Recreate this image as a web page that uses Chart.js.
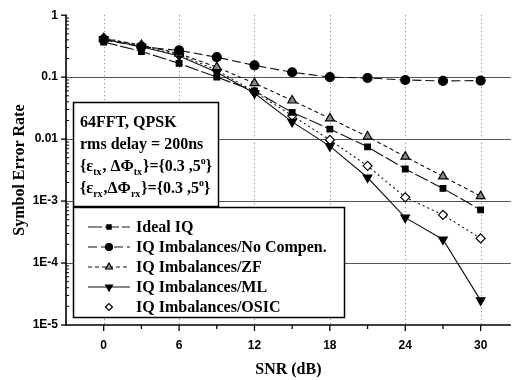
<!DOCTYPE html>
<html>
<head>
<meta charset="utf-8">
<script src="https://cdn.jsdelivr.net/npm/chart.js@4/dist/chart.umd.min.js"></script>
<style>
html, body { margin: 0; padding: 0; background: #fff; }
#wrap { width: 517px; height: 380px; }
</style>
</head>
<body>
<div id="wrap"><canvas id="serChart" width="517" height="380"></canvas></div>
<script>
// DATA
var snr = [0, 3, 6, 9, 12, 15, 18, 21, 24, 27, 30];
var idealIQ = [0.37, 0.26, 0.167, 0.1, 0.06, 0.027, 0.0145, 0.0075, 0.0033, 0.0016, 0.00072];
var noCompen = [0.4, 0.31, 0.27, 0.21, 0.155, 0.12, 0.1, 0.097, 0.09, 0.087, 0.088];
var zfSer = [0.42, 0.33, 0.24, 0.145, 0.08, 0.042, 0.0216, 0.011, 0.0052, 0.0025, 0.0012];
var mlSer = [0.41, 0.31, 0.22, 0.12, 0.055, 0.019, 0.0077, 0.0024, 0.00054, 0.00024, 0.000025];
var osicSer = [0.43, 0.32, 0.23, 0.13, 0.058, 0.024, 0.0097, 0.0037, 0.00115, 0.0006, 0.00025];

var seriesNames = ["Ideal IQ", "IQ Imbalances/No Compen.", "IQ Imbalances/ZF", "IQ Imbalances/ML", "IQ Imbalances/OSIC"];
var xTicks = [0, 6, 12, 18, 24, 30];
var xMinorTicks = [3, 9, 15, 21, 27];
var yTicks = [1, 0.1, 0.01, 0.001, 0.0001, 0.00001];
var yTickLabels = ["1", "0.1", "0.01", "1E-3", "1E-4", "1E-5"];

var boxLines = [
    [{ t: "64FFT, QPSK" }],
    [{ t: "rms delay = 200ns" }],
    [{ t: "{\u03b5" }, { t: "tx", sub: true }, { t: ", \u0394\u03a6" }, { t: "tx", sub: true }, { t: "}={0.3 ,5" }, { t: "o", sup: true }, { t: "}" }],
    [{ t: "{\u03b5" }, { t: "rx", sub: true }, { t: ",\u0394\u03a6" }, { t: "rx", sub: true }, { t: "}={0.3 ,5" }, { t: "o", sup: true }, { t: "}" }]
];

function toPoints(values) {
    var pts = [];
    for (var i = 0; i < snr.length; i++) {
        pts.push({ x: snr[i], y: values[i] });
    }
    return pts;
}

var serif = '"Liberation Serif", "Times New Roman", serif';
var sans = '"Liberation Sans", Arial, sans-serif';

var styles = [
    { data: idealIQ, pointStyle: "rect", rotation: 0, radius: 4, fill: "#000", dash: [14, 3] },
    { data: noCompen, pointStyle: "circle", rotation: 0, radius: 4.5, fill: "#000", dash: [9, 4] },
    { data: zfSer, pointStyle: "triangle", rotation: 0, radius: 5, fill: "#8a8a8a", dash: [4, 3] },
    { data: mlSer, pointStyle: "triangle", rotation: 180, radius: 5, fill: "#000", dash: [] },
    { data: osicSer, pointStyle: "rectRot", rotation: 0, radius: 4.5, fill: "#fff", dash: [2, 3] }
];

var datasets = [];
for (var s = 0; s < styles.length; s++) {
    datasets.push({
        label: seriesNames[s],
        data: toPoints(styles[s].data),
        showLine: true,
        borderColor: "#111",
        borderWidth: 1.1,
        borderDash: styles[s].dash,
        pointStyle: styles[s].pointStyle,
        rotation: styles[s].rotation,
        pointRadius: styles[s].radius,
        pointBackgroundColor: styles[s].fill,
        pointBorderColor: "#000",
        pointBorderWidth: 1.2
    });
}

function drawRich(ctx, parts, x, y) {
    var cx = x;
    for (var i = 0; i < parts.length; i++) {
        var p = parts[i];
        var dy = 0;
        if (p.sub || p.sup) {
            ctx.font = "bold 10px " + serif;
            dy = p.sub ? 4 : -7;
        } else {
            ctx.font = "bold 16px " + serif;
        }
        ctx.fillText(p.t, cx, y + dy);
        cx += ctx.measureText(p.t).width + (p.sub ? 1 : 0);
    }
}

// AXES, GRID, TEXT BOX AND LEGEND
var framePlugin = {
    id: "frame",
    beforeDatasetsDraw: function(chart) {
        var ctx = chart.ctx;
        var area = chart.chartArea;
        var xs = chart.scales.x;
        var ys = chart.scales.y;
        ctx.save();

        // horizontal decade lines
        ctx.strokeStyle = "#555";
        ctx.lineWidth = 1;
        for (var i = 1; i < yTicks.length - 1; i++) {
            var py = Math.round(ys.getPixelForValue(yTicks[i])) + 0.5;
            ctx.beginPath();
            ctx.moveTo(area.left, py);
            ctx.lineTo(area.right, py);
            ctx.stroke();
        }

        // vertical dotted lines
        ctx.strokeStyle = "#777";
        ctx.setLineDash([1, 3]);
        for (var j = 0; j < xTicks.length; j++) {
            var px = Math.round(xs.getPixelForValue(xTicks[j])) + 0.5;
            ctx.beginPath();
            ctx.moveTo(px, area.top);
            ctx.lineTo(px, area.bottom);
            ctx.stroke();
        }
        ctx.setLineDash([]);

        // axis lines
        ctx.strokeStyle = "#000";
        ctx.lineWidth = 1.6;
        ctx.beginPath();
        ctx.moveTo(area.left, area.top);
        ctx.lineTo(area.left, area.bottom);
        ctx.lineTo(area.right, area.bottom);
        ctx.stroke();

        // tick marks
        ctx.lineWidth = 1.3;
        for (var a = 0; a < xTicks.length; a++) {
            var tx = xs.getPixelForValue(xTicks[a]);
            ctx.beginPath();
            ctx.moveTo(tx, area.bottom);
            ctx.lineTo(tx, area.bottom + 6);
            ctx.stroke();
        }
        for (var b = 0; b < xMinorTicks.length; b++) {
            var mx = xs.getPixelForValue(xMinorTicks[b]);
            ctx.beginPath();
            ctx.moveTo(mx, area.bottom);
            ctx.lineTo(mx, area.bottom + 4);
            ctx.stroke();
        }
        for (var c = 0; c < yTicks.length; c++) {
            var ty = ys.getPixelForValue(yTicks[c]);
            ctx.beginPath();
            ctx.moveTo(area.left - 5, ty);
            ctx.lineTo(area.left + 1, ty);
            ctx.stroke();
            if (c < yTicks.length - 1) {
                for (var m = 2; m <= 9; m++) {
                    var my = ys.getPixelForValue(yTicks[c + 1] * m);
                    ctx.lineWidth = 1;
                    ctx.beginPath();
                    ctx.moveTo(area.left, my);
                    ctx.lineTo(area.left + 3, my);
                    ctx.stroke();
                }
                ctx.lineWidth = 1.3;
            }
        }
        ctx.restore();
    },
    afterDatasetsDraw: function(chart) {
        var ctx = chart.ctx;
        var metas = chart.getSortedVisibleDatasetMetas();
        ctx.save();
        ctx.fillStyle = "#fff";
        ctx.strokeStyle = "#000";
        ctx.lineWidth = 1.5;

        // parameter box
        ctx.fillRect(73, 102, 145, 104);
        ctx.strokeRect(73.5, 102.5, 145, 104);
        ctx.fillStyle = "#000";
        ctx.textBaseline = "alphabetic";
        ctx.textAlign = "left";
        var lineY = [127, 149, 171, 193];
        for (var i = 0; i < boxLines.length; i++) {
            drawRich(ctx, boxLines[i], 80, lineY[i]);
        }

        // legend box
        ctx.fillStyle = "#fff";
        ctx.fillRect(73, 207, 271, 110);
        ctx.strokeRect(73.5, 207.5, 271, 110);
        ctx.font = "bold 16px " + serif;
        ctx.textBaseline = "middle";
        for (var k = 0; k < styles.length; k++) {
            var rowY = 227 + k * 20;
            ctx.strokeStyle = "#111";
            ctx.lineWidth = 1.1;
            ctx.setLineDash(styles[k].dash);
            if (k < 4) {
                ctx.beginPath();
                ctx.moveTo(88, rowY);
                ctx.lineTo(130, rowY);
                ctx.stroke();
            }
            ctx.setLineDash([]);
            var opts = metas[k].data[0].options;
            ctx.fillStyle = opts.backgroundColor;
            ctx.strokeStyle = opts.borderColor;
            ctx.lineWidth = opts.borderWidth;
            Chart.helpers.drawPoint(ctx, {
                pointStyle: opts.pointStyle,
                rotation: opts.rotation,
                radius: opts.radius - 1,
                borderWidth: opts.borderWidth
            }, 109, rowY);
            ctx.fillStyle = "#000";
            ctx.font = "bold 16px " + serif;
            ctx.fillText(seriesNames[k], 136, rowY + 1);
        }
        ctx.restore();
    }
};

var ctx = document.getElementById("serChart").getContext("2d");
var serChart = new Chart(ctx, {
    type: "scatter",
    data: { datasets: datasets },
    options: {
        responsive: false,
        animation: false,
        devicePixelRatio: 1,
        layout: { padding: { top: 10, left: 0, right: 0, bottom: 0 } },
        plugins: {
            legend: { display: false },
            tooltip: { enabled: false }
        },
        scales: {
            x: {
                type: "linear",
                min: -3,
                max: 32.4,
                grid: { display: true, drawOnChartArea: false, drawTicks: false, color: "rgba(0,0,0,0)" },
                border: { display: false },
                afterBuildTicks: function(scale) {
                    scale.ticks = xTicks.map(function(v) { return { value: v }; });
                },
                afterFit: function(scale) { scale.height = 55; },
                ticks: {
                    padding: 13,
                    color: "#000",
                    font: { family: sans, size: 12, weight: "bold" },
                    maxRotation: 0,
                    callback: function(v) { return String(v); }
                },
                title: {
                    display: true,
                    text: "SNR (dB)",
                    color: "#000",
                    font: { family: serif, size: 16, weight: "bold" },
                    padding: { top: 0, bottom: 1 }
                }
            },
            y: {
                type: "logarithmic",
                min: 0.00001,
                max: 1,
                grid: { display: true, drawOnChartArea: false, drawTicks: false, color: "rgba(0,0,0,0)" },
                border: { display: false },
                afterBuildTicks: function(scale) {
                    scale.ticks = yTicks.map(function(v) { return { value: v }; });
                },
                afterFit: function(scale) { scale.width = 66; },
                ticks: {
                    padding: 8,
                    color: "#000",
                    font: { family: sans, size: 12, weight: "bold" },
                    callback: function(v) {
                        var idx = yTicks.indexOf(v);
                        return idx >= 0 ? yTickLabels[idx] : "";
                    }
                },
                title: {
                    display: true,
                    text: "Symbol Error Rate",
                    color: "#000",
                    font: { family: serif, size: 16, weight: "bold" },
                    padding: { top: 10, bottom: 0 }
                }
            }
        }
    },
    plugins: [framePlugin]
});
</script>
</body>
</html>
